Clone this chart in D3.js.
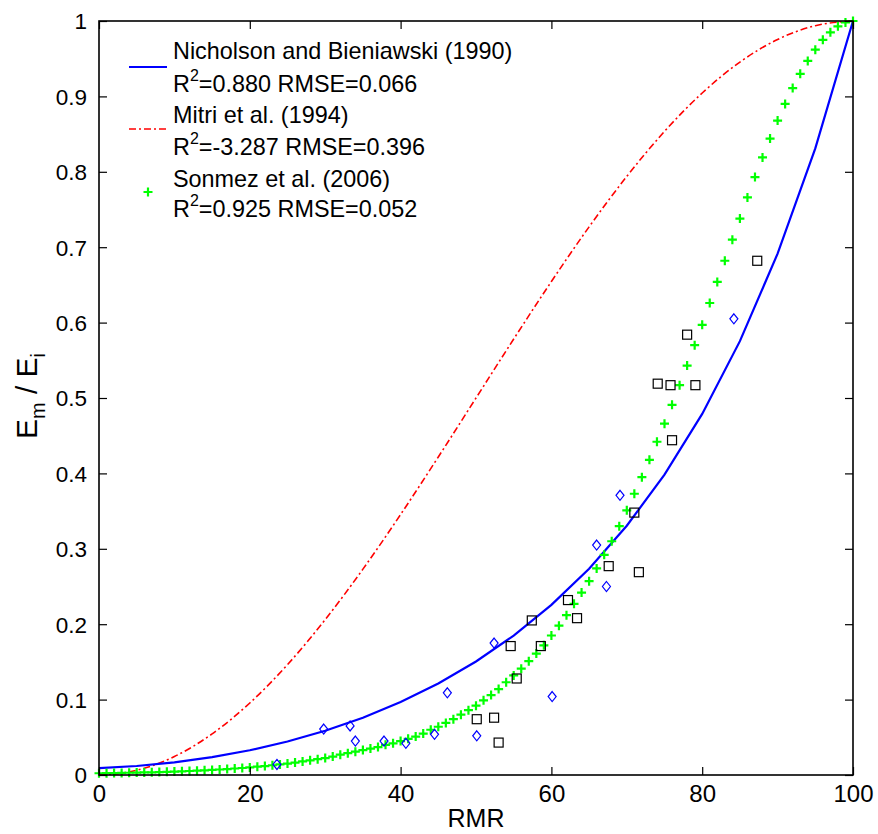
<!DOCTYPE html>
<html><head><meta charset="utf-8">
<script src="https://cdn.jsdelivr.net/npm/d3@7/dist/d3.min.js"></script>
<style>
body{margin:0;background:#fff}
text{font-family:"Liberation Sans",Arial,Helvetica,sans-serif;fill:#000}
</style>
</head><body>
<svg id="chart" width="878" height="834"></svg>
<script>
// ---------- data ----------
const xTickValues = [0, 20, 40, 60, 80, 100];
const xTickLabels = ["0", "20", "40", "60", "80", "100"];
const yTickValues = [0, 0.1, 0.2, 0.3, 0.4, 0.5, 0.6, 0.7, 0.8, 0.9, 1];
const yTickLabels = ["0", "0.1", "0.2", "0.3", "0.4", "0.5", "0.6", "0.7", "0.8", "0.9", "1"];

const curveRMR = [0,5,10,15,20,25,30,35,40,45,50,55,60,65,70,75,80,85,90,95,100];
const nicholsonRatio = [0.009,0.0119,0.0168,0.0237,0.0328,0.0444,0.0587,0.0760,0.0967,0.1214,0.1505,0.1849,0.2256,0.2736,0.3306,0.3983,0.4789,0.5754,0.6914,0.8310,1.0];
const mitriRatio = [0,0.0062,0.0245,0.0545,0.0955,0.1464,0.2061,0.2730,0.3455,0.4218,0.5,0.5782,0.6545,0.7270,0.7939,0.8536,0.9045,0.9455,0.9755,0.9938,1.0];

const sonmezRMR = [0,1,2,3,4,5,6,7,8,9,10,11,12,13,14,15,16,17,18,19,20,21,22,23,24,25,26,27,28,29,30,31,32,33,34,35,36,37,38,39,40,41,42,43,44,45,46,47,48,49,50,51,52,53,54,55,56,57,58,59,60,61,62,63,64,65,66,67,68,69,70,71,72,73,74,75,76,77,78,79,80,81,82,83,84,85,86,87,88,89,90,91,92,93,94,95,96,97,98,99,100];
const sonmezRatio = [0.0023,0.0024,0.0026,0.0028,0.0030,0.0032,0.0034,0.0036,0.0039,0.0042,0.0045,0.0049,0.0053,0.0057,0.0062,0.0067,0.0073,0.0079,0.0086,0.0093,0.0101,0.0110,0.0119,0.0129,0.0140,0.0152,0.0165,0.0180,0.0195,0.0210,0.0225,0.0245,0.0270,0.0290,0.0310,0.0330,0.0350,0.0370,0.0400,0.0420,0.0450,0.0480,0.0510,0.0550,0.0600,0.0640,0.0690,0.0740,0.0800,0.0860,0.0920,0.0990,0.1060,0.1140,0.1230,0.1320,0.1410,0.1510,0.1610,0.1720,0.1850,0.1980,0.2120,0.2270,0.2420,0.2570,0.2740,0.2920,0.3100,0.3300,0.3510,0.3730,0.3950,0.4180,0.4420,0.4660,0.4910,0.5170,0.5430,0.5700,0.5970,0.6260,0.6540,0.6820,0.7100,0.7380,0.7660,0.7930,0.8190,0.8440,0.8680,0.8900,0.9110,0.9300,0.9470,0.9620,0.9750,0.9850,0.9930,0.9980,1.0];

const diamondRMR   = [23.6,29.8,33.3,34.0,37.8,40.7,44.5,46.2,50.1,52.4,60.1,66.0,67.3,69.1,84.2];
const diamondRatio = [0.014,0.061,0.065,0.045,0.045,0.042,0.054,0.109,0.052,0.175,0.104,0.305,0.250,0.371,0.605];

const squareRMR   = [50.1,52.4,53.0,54.6,55.4,57.4,58.6,62.2,63.4,67.6,71.6,71.0,76.0,74.1,75.8,79.1,78.0,87.3];
const squareRatio = [0.074,0.076,0.043,0.171,0.128,0.205,0.171,0.232,0.208,0.277,0.269,0.348,0.444,0.519,0.517,0.517,0.584,0.682];

const legendNames = ["Nicholson and Bieniawski (1990)", "Mitri et al. (1994)", "Sonmez et al. (2006)"];
const legendR2    = ["=0.880 RMSE=0.066", "=-3.287 RMSE=0.396", "=0.925 RMSE=0.052"];

// ---------- layout ----------
const L = 99, R = 853, T = 21, B = 775;
const svg = d3.select("#chart");
const x = d3.scaleLinear().domain([0, 100]).range([L, R]);
const y = d3.scaleLinear().domain([0, 1]).range([B, T]);

// curves
const nbData = curveRMR.map((r, i) => [r, nicholsonRatio[i]]);
const miData = curveRMR.map((r, i) => [r, mitriRatio[i]]);
const lineLin = d3.line().x(d => x(d[0])).y(d => y(d[1]));
const lineSmooth = d3.line().x(d => x(d[0])).y(d => y(d[1])).curve(d3.curveMonotoneX);

svg.append("path").datum(miData).attr("d", lineSmooth)
  .attr("fill", "none").attr("stroke", "#ff0000").attr("stroke-width", 1.6)
  .attr("stroke-dasharray", "7,3,2,3");
svg.append("path").datum(nbData).attr("d", lineLin)
  .attr("fill", "none").attr("stroke", "#0000ff").attr("stroke-width", 2.2);

// sonmez plus markers
const plusPath = "M-4.5,0H4.5M0,-4.5V4.5";
svg.append("g").selectAll("path").data(sonmezRMR.map((r, i) => [r, sonmezRatio[i]]))
  .join("path")
  .attr("transform", d => `translate(${x(d[0])},${y(d[1])})`)
  .attr("d", plusPath).attr("stroke", "#00ff00").attr("stroke-width", 2.2).attr("fill", "none");

// diamonds
svg.append("g").selectAll("path").data(diamondRMR.map((r, i) => [r, diamondRatio[i]]))
  .join("path")
  .attr("transform", d => `translate(${x(d[0])},${y(d[1])})`)
  .attr("d", "M0,-5L4,0L0,5L-4,0Z").attr("stroke", "#0000ff").attr("stroke-width", 1.2).attr("fill", "none");

// squares
svg.append("g").selectAll("rect").data(squareRMR.map((r, i) => [r, squareRatio[i]]))
  .join("rect")
  .attr("x", d => x(d[0]) - 4.5).attr("y", d => y(d[1]) - 4.5)
  .attr("width", 9).attr("height", 9)
  .attr("stroke", "#000").attr("stroke-width", 1.2).attr("fill", "none");

// axes box
const axG = svg.append("g");
const tickLen = 8;
const xAxisB = d3.axisBottom(x).tickValues(xTickValues).tickSize(-tickLen).tickFormat((d, i) => xTickLabels[i]).tickPadding(14);
const xAxisT = d3.axisTop(x).tickValues(xTickValues).tickSize(-tickLen).tickFormat("");
const yAxisL = d3.axisLeft(y).tickValues(yTickValues).tickSize(-tickLen).tickFormat((d, i) => yTickLabels[i]).tickPadding(12);
const yAxisR = d3.axisRight(y).tickValues(yTickValues).tickSize(-tickLen).tickFormat("");

const gB = axG.append("g").attr("transform", `translate(0,${B})`).call(xAxisB);
const gT = axG.append("g").attr("transform", `translate(0,${T})`).call(xAxisT);
const gL = axG.append("g").attr("transform", `translate(${L},0)`).call(yAxisL);
const gR = axG.append("g").attr("transform", `translate(${R},0)`).call(yAxisR);
[gB, gT, gL, gR].forEach(g => {
  g.select(".domain").remove();
  g.selectAll(".tick line").attr("stroke", "#000").attr("stroke-width", 1.2);
  g.selectAll(".tick text").attr("font-family", "Liberation Sans, Arial, sans-serif").attr("fill", "#000");
});
gB.selectAll(".tick text").attr("font-size", 24).attr("dy", "0.71em").attr("y", 10);
gL.selectAll(".tick text").attr("font-size", 22.5).attr("dy", "0.35em");

axG.append("rect").attr("x", L).attr("y", T).attr("width", R - L).attr("height", B - T)
  .attr("fill", "none").attr("stroke", "#000").attr("stroke-width", 1.6);

// axis labels
svg.append("text").attr("x", (L + R) / 2).attr("y", 827).attr("text-anchor", "middle")
  .attr("font-size", 25).text("RMR");

const yl = svg.append("text").attr("transform", `translate(37,${(T + B) / 2 - 2}) rotate(-90)`)
  .attr("text-anchor", "middle").attr("font-size", 30);
yl.append("tspan").text("E");
yl.append("tspan").attr("font-size", 20).attr("dy", 8).text("m");
yl.append("tspan").attr("dy", -8).text(" / E");
yl.append("tspan").attr("font-size", 20).attr("dy", 8).text("i");

// legend
const lg = svg.append("g");
const lx = 173;
const nameBase = [59, 123, 187];
const r2Base = [92, 155, 217];
const sampleY = [67, 129, 192];
legendNames.forEach((n, i) => {
  lg.append("text").attr("x", lx).attr("y", nameBase[i]).attr("font-size", 23.4).text(n);
  const t = lg.append("text").attr("x", lx).attr("y", r2Base[i]).attr("font-size", 23.4);
  t.append("tspan").text("R");
  t.append("tspan").attr("font-size", 16).attr("dy", -11).text("2");
  t.append("tspan").attr("dy", 11).text(legendR2[i]);
});
lg.append("line").attr("x1", 129).attr("x2", 167).attr("y1", sampleY[0]).attr("y2", sampleY[0])
  .attr("stroke", "#0000ff").attr("stroke-width", 2.2);
lg.append("line").attr("x1", 129).attr("x2", 167).attr("y1", sampleY[1]).attr("y2", sampleY[1])
  .attr("stroke", "#ff0000").attr("stroke-width", 1.6).attr("stroke-dasharray", "7,3,2,3");
lg.append("path").attr("transform", `translate(148,${sampleY[2]})`).attr("d", plusPath)
  .attr("stroke", "#00ff00").attr("stroke-width", 2.2);
</script>
</body></html>
